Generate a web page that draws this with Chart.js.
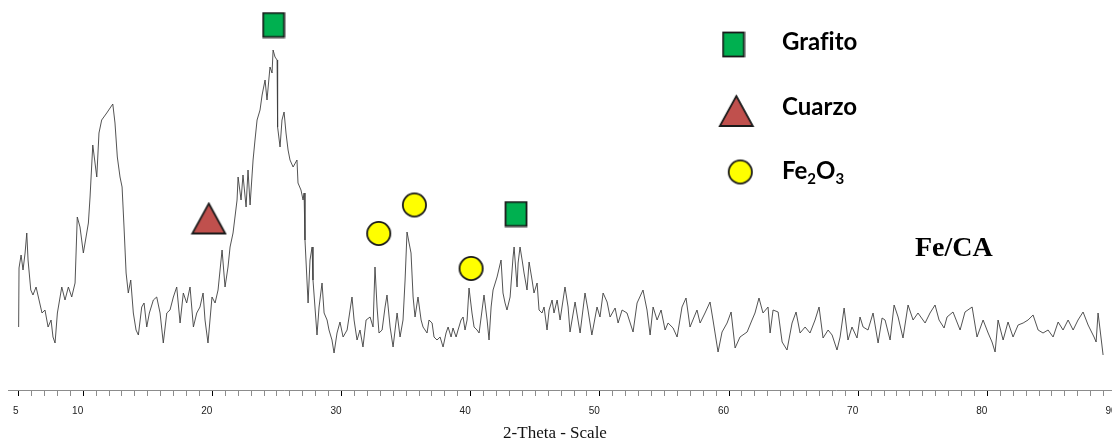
<!DOCTYPE html>
<html>
<head>
<meta charset="utf-8">
<script src="https://cdn.jsdelivr.net/npm/chart.js@4.4.0/dist/chart.umd.min.js"></script>
<style>
    html, body { margin: 0; padding: 0; background: #ffffff; }
    #wrap { width: 1112px; height: 446px; }
</style>
</head>
<body>
<div id="wrap"><canvas id="chart_xrd" width="1112" height="446"></canvas></div>
<script>
// difractograma Fe/CA: 2-theta (grados) e intensidad (cuentas)
var twoTheta = [
    5.00, 5.03, 5.19, 5.34, 5.50, 5.63, 5.73, 5.94, 6.11, 6.35,
    6.58, 6.81, 7.04, 7.28, 7.51, 7.66, 7.82, 8.00, 8.34, 8.59,
    8.85, 9.11, 9.37, 9.54, 9.75, 10.01, 10.22, 10.40, 10.53, 10.74,
    11.05, 11.22, 11.43, 11.82, 12.08, 12.29, 12.46, 12.64, 12.85, 13.01,
    13.16, 13.32, 13.49, 13.68, 13.88, 14.09, 14.27, 14.53, 14.71, 14.92,
    15.12, 15.43, 15.69, 15.95, 16.20, 16.47, 16.72, 16.98, 17.24, 17.50,
    17.75, 18.01, 18.27, 18.53, 18.79, 19.04, 19.28, 19.43, 19.66, 19.97,
    20.21, 20.44, 20.75, 20.98, 21.21, 21.37, 21.60, 21.91, 21.99, 22.22,
    22.37, 22.61, 22.76, 22.92, 23.15, 23.30, 23.46, 23.69, 23.85, 24.08,
    24.23, 24.46, 24.62, 24.70, 24.85, 25.01, 25.05, 25.24, 25.39, 25.55,
    25.70, 25.86, 26.01, 26.25, 26.55, 26.63, 26.86, 27.02, 27.10, 27.17,
    27.41, 27.56, 27.72, 27.79, 28.10, 28.26, 28.49, 28.65, 28.88, 29.03,
    29.26, 29.42, 29.65, 29.88, 30.12, 30.43, 30.81, 30.97, 31.20, 31.43,
    31.66, 31.90, 32.21, 32.44, 32.59, 32.75, 32.90, 33.14, 33.37, 33.52,
    33.76, 33.99, 34.30, 34.53, 34.76, 34.92, 35.07, 35.23, 35.38, 35.54,
    35.69, 35.85, 35.92, 36.16, 36.31, 36.62, 36.77, 37.01, 37.16, 37.39,
    37.63, 37.86, 38.09, 38.25, 38.48, 38.63, 38.87, 39.02, 39.25, 39.41,
    39.56, 39.72, 39.87, 40.10, 40.26, 40.49, 40.65, 40.88, 41.03, 41.27,
    41.42, 41.58, 41.73, 42.04, 42.35, 42.50, 42.66, 42.81, 43.05, 43.28,
    43.36, 43.59, 43.67, 43.82, 43.98, 44.13, 44.36, 44.52, 44.75, 44.90,
    45.14, 45.29, 45.52, 45.68, 45.91, 46.07, 46.30, 46.45, 46.69, 46.92,
    47.30, 47.54, 47.69, 48.08, 48.47, 48.85, 49.08, 49.38, 49.78, 50.01,
    50.25, 50.56, 50.79, 51.18, 51.41, 51.72, 52.10, 52.57, 52.88, 53.34,
    53.65, 53.89, 54.12, 54.43, 54.74, 55.05, 55.28, 55.67, 55.98, 56.36,
    56.67, 56.98, 57.52, 57.76, 58.14, 58.53, 58.76, 59.15, 59.46, 59.85,
    60.16, 60.47, 60.85, 61.40, 61.78, 62.01, 62.32, 62.63, 63.02, 63.18,
    63.41, 63.80, 64.11, 64.49, 64.88, 65.19, 65.50, 65.89, 66.27, 66.66,
    66.97, 67.28, 67.67, 67.98, 68.36, 68.60, 68.91, 69.21, 69.52, 69.91,
    70.14, 70.38, 70.76, 71.15, 71.54, 71.85, 72.08, 72.47, 72.78, 73.09,
    73.47, 73.86, 74.25, 74.63, 75.18, 75.56, 75.95, 76.26, 76.65, 76.88,
    77.34, 77.89, 78.27, 78.82, 79.20, 79.67, 80.06, 80.36, 80.60, 80.83,
    81.22, 81.60, 81.99, 82.38, 82.77, 83.15, 83.54, 83.93, 84.31, 84.70,
    85.09, 85.48, 85.86, 86.25, 86.64, 87.02, 87.41, 87.80, 88.26, 88.42,
    88.57, 88.73, 88.96
]
var counts = [
    126, 244, 270, 240, 274, 314, 260, 200, 190, 206,
    180, 154, 160, 126, 140, 106, 94, 154, 206, 180,
    206, 186, 214, 346, 326, 274, 306, 334, 386, 490,
    426, 514, 540, 554, 564, 572, 534, 466, 426, 406,
    326, 234, 194, 220, 154, 120, 110, 166, 174, 126,
    154, 180, 186, 154, 94, 154, 160, 186, 206, 134,
    194, 174, 206, 126, 154, 166, 194, 140, 94, 186,
    174, 200, 280, 206, 246, 286, 314, 380, 426, 380,
    430, 366, 440, 370, 460, 500, 540, 560, 590, 620,
    580, 646, 634, 680, 666, 660, 526, 486, 540, 556,
    514, 480, 460, 446, 460, 414, 400, 380, 394, 300,
    174, 260, 286, 220, 110, 166, 214, 154, 140, 120,
    100, 74, 114, 136, 106, 120, 186, 140, 100, 120,
    86, 140, 146, 126, 246, 166, 114, 120, 166, 190,
    126, 86, 154, 106, 140, 220, 316, 294, 274, 186,
    146, 174, 186, 140, 126, 114, 140, 134, 106, 100,
    106, 86, 114, 126, 106, 124, 106, 120, 140, 146,
    120, 140, 204, 154, 126, 120, 114, 160, 190, 140,
    100, 166, 200, 226, 260, 194, 174, 160, 186, 266,
    286, 206, 254, 286, 260, 234, 200, 256, 220, 194,
    214, 160, 154, 166, 120, 160, 180, 154, 180, 140,
    206, 166, 116, 176, 114, 194, 160, 110, 166, 146,
    194, 176, 146, 164, 134, 160, 154, 116, 174, 200,
    160, 110, 166, 140, 160, 120, 134, 124, 106, 166,
    184, 126, 160, 134, 154, 176, 140, 76, 116, 134,
    156, 84, 106, 116, 140, 154, 184, 154, 166, 114,
    160, 156, 96, 80, 134, 156, 114, 126, 114, 140,
    166, 104, 120, 110, 80, 106, 164, 100, 126, 104,
    146, 126, 120, 154, 94, 144, 140, 100, 170, 146,
    104, 170, 140, 154, 134, 154, 170, 140, 124, 146,
    156, 120, 156, 166, 106, 140, 114, 96, 76, 140,
    100, 136, 106, 130, 134, 140, 150, 120, 114, 120,
    106, 136, 120, 140, 120, 140, 156, 130, 106, 96,
    154, 120, 70
]

// posiciones de las fases identificadas
var grafitoTheta = [24.74, 43.51]
var grafitoCounts = [730, 352]
var cuarzoTheta = [19.72]
var cuarzoCounts = [343]
var fe2o3Theta = [32.88, 35.64, 40.03]
var fe2o3Counts = [313, 370, 243]

// eje 2-theta
var majorTicks = [5, 10, 20, 30, 40, 50, 60, 70, 80, 90]
var axisMin = 4.2
var axisMax = 89.65
var countsMax = 780

function to_points(xs, ys) {
    return xs.map(function (x, i) {
        return { x: x, y: ys[i] }
    })
}

// marcadores dibujados una vez en canvas pequeños
function make_marker(kind) {
    var c = document.createElement('canvas')
    if (kind == 'rect') {
        c.width = 24
        c.height = 27
    } else if (kind == 'triangle') {
        c.width = 37
        c.height = 34
    } else {
        c.width = 27
        c.height = 27
    }
    var ctx = c.getContext('2d')
    ctx.lineWidth = 1.8
    ctx.strokeStyle = '#1a1a1a'
    if (kind == 'rect') {
        ctx.fillStyle = '#00b050'
        ctx.fillRect(1.5, 1.5, 21, 24)
        ctx.strokeRect(1.5, 1.5, 21, 24)
    } else if (kind == 'triangle') {
        ctx.lineJoin = 'miter'
        ctx.fillStyle = '#c0504d'
        ctx.beginPath()
        ctx.moveTo(18.5, 2)
        ctx.lineTo(35, 32)
        ctx.lineTo(2, 32)
        ctx.closePath()
        ctx.fill()
        ctx.stroke()
    } else {
        ctx.fillStyle = '#ffff00'
        ctx.beginPath()
        ctx.arc(13.5, 13.5, 11.6, 0, Math.PI * 2)
        ctx.fill()
        ctx.stroke()
    }
    return c
}

var marker_rect = make_marker('rect')
var marker_triangle = make_marker('triangle')
var marker_circle = make_marker('circle')

// leyenda, rótulo de la muestra y título del eje
var xrd_labels = {
    id: 'xrd_labels',
    afterDraw: function (chart) {
        var ctx = chart.ctx
        ctx.save()

        ctx.drawImage(marker_rect, 733.5 - marker_rect.width / 2, 44.5 - marker_rect.height / 2)
        ctx.drawImage(marker_triangle, 736.3 - marker_triangle.width / 2, 111 - marker_triangle.height / 2)
        ctx.drawImage(marker_circle, 740.3 - marker_circle.width / 2, 172 - marker_circle.height / 2)

        ctx.fillStyle = '#000000'
        ctx.textBaseline = 'alphabetic'
        ctx.textAlign = 'left'
        ctx.font = 'bold 24px Lato'
        // ZWNJ evita la ligadura "fi"
        ctx.fillText('Graf\u200Cito', 782, 50)
        ctx.fillText('Cuarzo', 782, 115)

        var x = 782
        ctx.fillText('Fe', x, 179)
        x += ctx.measureText('Fe').width
        ctx.font = 'bold 15px Lato'
        ctx.fillText('2', x, 184)
        x += ctx.measureText('2').width
        ctx.font = 'bold 24px Lato'
        ctx.fillText('O', x, 179)
        x += ctx.measureText('O').width
        ctx.font = 'bold 15px Lato'
        ctx.fillText('3', x, 184)

        ctx.font = 'bold 28px "Liberation Serif"'
        ctx.fillText('Fe/CA', 915, 256)

        ctx.font = '17px "Liberation Serif"'
        ctx.textAlign = 'center'
        ctx.fillStyle = '#111111'
        ctx.fillText('2-Theta - Scale', 555, 438)

        ctx.restore()
    }
}

var chart_xrd = new Chart(document.getElementById('chart_xrd'), {
    type: 'scatter',
    data: {
        datasets: [
            {
                label: 'Fe/CA',
                data: to_points(twoTheta, counts),
                showLine: true,
                borderColor: '#404040',
                borderWidth: 0.9,
                pointRadius: 0,
                tension: 0,
                order: 2
            },
            {
                label: 'Grafito',
                data: to_points(grafitoTheta, grafitoCounts),
                pointStyle: marker_rect,
                order: 1
            },
            {
                label: 'Cuarzo',
                data: to_points(cuarzoTheta, cuarzoCounts),
                pointStyle: marker_triangle,
                order: 1
            },
            {
                label: 'Fe2O3',
                data: to_points(fe2o3Theta, fe2o3Counts),
                pointStyle: marker_circle,
                order: 1
            }
        ]
    },
    options: {
        responsive: false,
        animation: false,
        devicePixelRatio: 1,
        layout: {
            autoPadding: false,
            padding: { left: 8.3, right: 0, top: 0, bottom: 0 }
        },
        scales: {
            x: {
                type: 'linear',
                min: axisMin,
                max: axisMax,
                afterBuildTicks: function (scale) {
                    var ticks = []
                    for (var v = 5; v <= 90; v++) {
                        ticks.push({ value: v })
                    }
                    scale.ticks = ticks
                },
                afterFit: function (scale) {
                    scale.height = 56
                    scale.paddingLeft = 0
                    scale.paddingRight = 0
                },
                border: { color: '#8c8c8c', width: 1 },
                grid: {
                    drawOnChartArea: false,
                    drawTicks: true,
                    tickLength: 6,
                    tickColor: function (context) {
                        return majorTicks.indexOf(context.tick.value) >= 0 ? '#000000' : '#8c8c8c'
                    }
                },
                ticks: {
                    autoSkip: false,
                    maxRotation: 0,
                    minRotation: 0,
                    align: 'end',
                    padding: 9,
                    color: '#222222',
                    font: { family: '"Liberation Sans"', size: 10 },
                    callback: function (value) {
                        return majorTicks.indexOf(value) >= 0 ? String(value) : ''
                    }
                }
            },
            y: {
                display: false,
                min: 0,
                max: countsMax
            }
        },
        plugins: {
            legend: { display: false },
            tooltip: { enabled: false }
        }
    },
    plugins: [xrd_labels]
})
</script>
</body>
</html>
